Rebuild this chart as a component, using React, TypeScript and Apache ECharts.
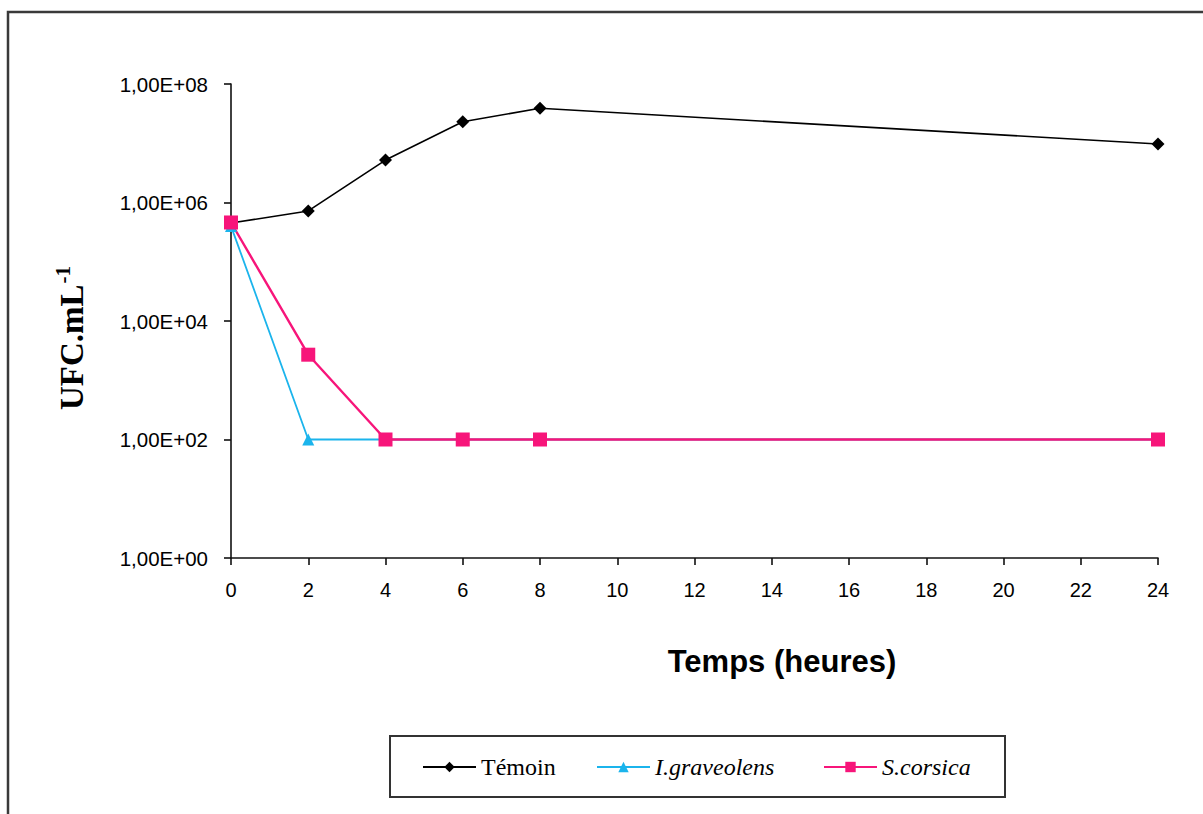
import React, { useEffect, useRef } from 'react';
import * as echarts from 'echarts';

const hours = [0, 2, 4, 6, 8, 24];
const temoin = [4.5e5, 7.2e5, 5.2e6, 2.3e7, 3.9e7, 9.7e6];
const graveolens = [4.0e5, 100, 100, 100, 100, 100];
const corsica = [4.6e5, 2.7e3, 100, 100, 100, 100];
const seriesNames = ['Témoin', 'I.graveolens', 'S.corsica'];
const xAxisTitle = 'Temps (heures)';
const yAxisTitle = 'UFC.mL';
const yAxisTitleSup = '-1';

const BLACK = '#000000';
const CYAN = '#1BB4EC';
const PINK = '#F7157A';

function pairs(ys: number[]) {
  return hours.map((h, i) => [h, ys[i]]);
}

function yLabel(v: number) {
  const e = Math.round(Math.log10(v));
  return '1,00E+' + String(e).padStart(2, '0');
}

export default function App() {
  const ref = useRef<HTMLDivElement>(null);
  useEffect(() => {
    if (!ref.current) return;
    const chart = echarts.init(ref.current, null, { renderer: 'svg' });
    const legendText = (italic: boolean) => ({
      fontFamily: 'Liberation Serif',
      fontSize: 24,
      fontStyle: italic ? 'italic' : 'normal',
      color: '#000',
    });
    const legendBase = {
      top: 755,
      padding: 0,
      itemWidth: 53,
      itemHeight: 13,
      orient: 'horizontal',
    };
    chart.setOption({
      animation: false,
      backgroundColor: '#ffffff',
      grid: { left: 231, right: 45, top: 84, bottom: 256, containLabel: false },
      xAxis: {
        type: 'value',
        min: 0,
        max: 24,
        interval: 2,
        splitLine: { show: false },
        axisLine: { show: true, onZero: false, lineStyle: { color: '#111', width: 1.6 } },
        axisTick: { show: true, inside: false, length: 7, lineStyle: { color: '#111', width: 1.6 } },
        axisLabel: { margin: 22, fontFamily: 'Liberation Sans', fontSize: 20, color: '#000' },
      },
      yAxis: {
        type: 'log',
        logBase: 10,
        min: 1,
        max: 1e8,
        interval: 2,
        splitLine: { show: false },
        axisLine: { show: true, lineStyle: { color: '#111', width: 1.6 } },
        axisTick: { show: true, inside: false, length: 7, lineStyle: { color: '#111', width: 1.6 } },
        axisLabel: { margin: 23, fontFamily: 'Liberation Sans', fontSize: 20.5, color: '#000', formatter: yLabel },
      },
      legend: [
        { ...legendBase, left: 422, data: [seriesNames[0]], textStyle: legendText(false) },
        { ...legendBase, left: 596, data: [seriesNames[1]], textStyle: legendText(true) },
        { ...legendBase, left: 823, data: [seriesNames[2]], textStyle: legendText(true) },
      ],
      graphic: [
        {
          type: 'rect',
          shape: { x: 8, y: 12, width: 1300, height: 900 },
          style: { fill: 'none', stroke: '#3a3a3a', lineWidth: 2.5 },
          silent: true,
        },
        {
          type: 'rect',
          shape: { x: 390, y: 736, width: 615, height: 61 },
          style: { fill: 'none', stroke: '#333', lineWidth: 2 },
          silent: true,
        },
        {
          type: 'text',
          x: 782,
          y: 661,
          style: {
            text: xAxisTitle,
            fontFamily: 'Liberation Sans',
            fontWeight: 'bold',
            fontSize: 31,
            fill: '#000',
            align: 'center',
            verticalAlign: 'middle',
          },
        },
        {
          type: 'text',
          x: 70,
          y: 338,
          rotation: Math.PI / 2,
          style: {
            text: '{a|' + yAxisTitle + '}{b|' + yAxisTitleSup + '}',
            align: 'center',
            verticalAlign: 'middle',
            rich: {
              a: { fontFamily: 'Liberation Serif', fontWeight: 'bold', fontSize: 33, fill: '#000', lineHeight: 36, verticalAlign: 'bottom' },
              b: { fontFamily: 'Liberation Serif', fontWeight: 'bold', fontSize: 21, fill: '#000', lineHeight: 36, verticalAlign: 'top', padding: [0, 0, 14, 1] },
            },
          },
        },
      ],
      series: [
        {
          name: seriesNames[0],
          type: 'line',
          data: pairs(temoin),
          symbol: 'diamond',
          symbolSize: 13,
          itemStyle: { color: BLACK },
          lineStyle: { color: BLACK, width: 1.6 },
        },
        {
          name: seriesNames[1],
          type: 'line',
          data: pairs(graveolens),
          symbol: 'triangle',
          symbolSize: 12,
          itemStyle: { color: CYAN },
          lineStyle: { color: CYAN, width: 1.8 },
        },
        {
          name: seriesNames[2],
          type: 'line',
          data: pairs(corsica),
          symbol: 'rect',
          symbolSize: 14,
          itemStyle: { color: PINK },
          lineStyle: { color: PINK, width: 2.4 },
        },
      ],
    });
    return () => chart.dispose();
  }, []);
  return (
    <div
      ref={ref}
      style={{ position: 'fixed', left: 0, top: 0, width: 1203, height: 814, background: '#fff' }}
    />
  );
}
